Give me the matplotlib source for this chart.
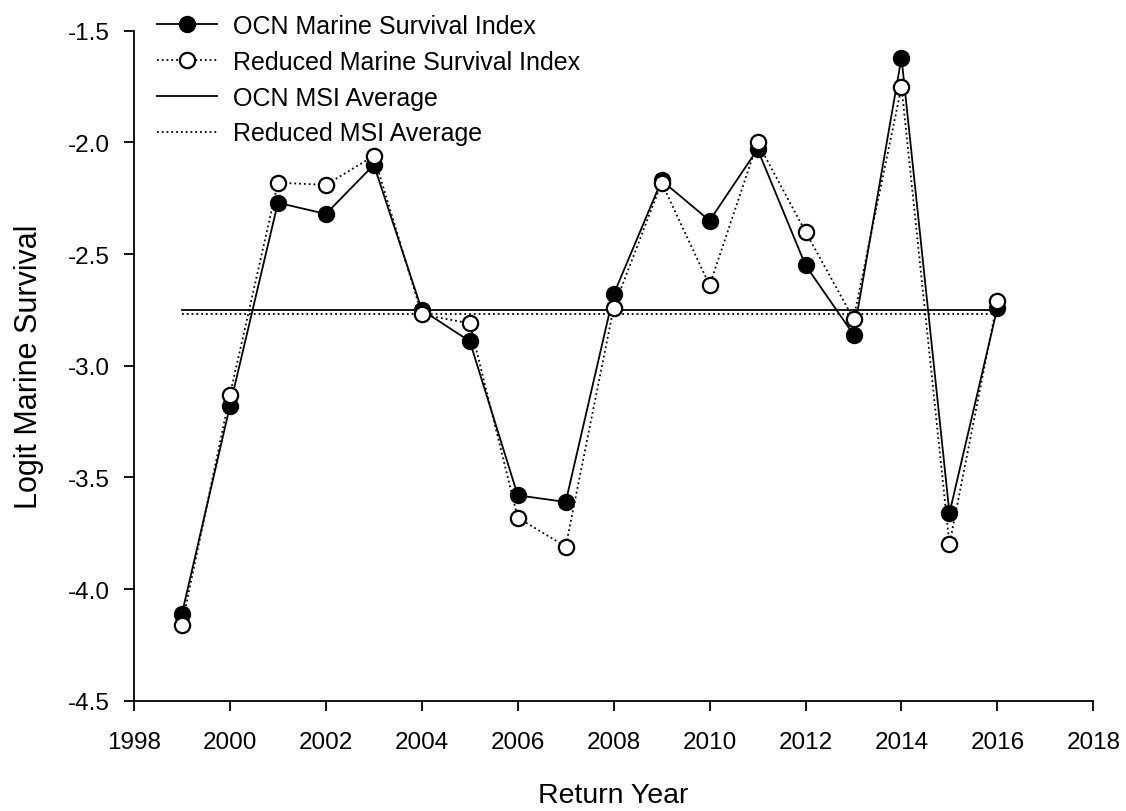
import numpy as np
import matplotlib
matplotlib.use("Agg")
import matplotlib.pyplot as plt

plt.rcParams['font.family'] = ['Liberation Sans', 'DejaVu Sans']

#datos
anios = [1999, 2000, 2001, 2002, 2003, 2004, 2005, 2006, 2007, 2008,
         2009, 2010, 2011, 2012, 2013, 2014, 2015, 2016]
msi_ocn = [-4.11, -3.18, -2.27, -2.32, -2.10, -2.75, -2.89, -3.58, -3.61, -2.68,
           -2.17, -2.35, -2.03, -2.55, -2.86, -1.62, -3.66, -2.74]
msi_reducido = [-4.16, -3.13, -2.18, -2.19, -2.06, -2.77, -2.81, -3.68, -3.81, -2.74,
                -2.18, -2.64, -2.00, -2.40, -2.79, -1.75, -3.80, -2.71]

#los promedios se calculan de los mismos datos
prom_ocn = np.mean(msi_ocn)
prom_reducido = np.mean(msi_reducido)

fig = plt.figure(figsize=(11.26, 8.12), dpi=100)
ax = fig.add_axes([0.119, 0.1358, 0.852, 0.825])

ax.plot(anios, msi_ocn, color='k', lw=1.3, marker='o', ms=11.5,
        mfc='k', mec='k', label='OCN Marine Survival Index', zorder=3)
ax.plot(anios, msi_reducido, color='k', lw=1.3, ls=':', marker='o', ms=11,
        mfc='white', mec='k', mew=1.6, label='Reduced Marine Survival Index', zorder=4)
ax.plot([anios[0], anios[-1]], [prom_ocn, prom_ocn], color='k', lw=1.3,
        label='OCN MSI Average', zorder=2)
ax.plot([anios[0], anios[-1]], [prom_reducido, prom_reducido], color='k', lw=1.3,
        ls=':', label='Reduced MSI Average', zorder=2)

ax.set_xlim(1998, 2018)
ax.set_ylim(-4.5, -1.5)
ax.set_xticks(np.arange(1998, 2019, 2))
ax.set_yticks(np.arange(-4.5, -1.49, 0.5))
ax.set_yticklabels(['%.1f' % v for v in np.arange(-4.5, -1.49, 0.5)])

ax.spines['right'].set_color('none')
ax.spines['top'].set_color('none')
ax.spines['left'].set_linewidth(1.3)
ax.spines['bottom'].set_linewidth(1.3)
ax.tick_params(direction='out', length=7.5, width=1.3, labelsize=17.5)
ax.tick_params(axis='x', pad=14)
ax.tick_params(axis='y', pad=10)

ax.set_xlabel('Return Year', fontsize=20.5, labelpad=21)
ax.set_ylabel('Logit Marine Survival', fontsize=22, labelpad=17)

ax.legend(loc='upper left', bbox_to_anchor=(0.0136, 1.04), frameon=False, fontsize=18,
          handlelength=2.4, handletextpad=0.64, labelspacing=0.47, borderaxespad=0)

fig.savefig('out.png', dpi=100)
